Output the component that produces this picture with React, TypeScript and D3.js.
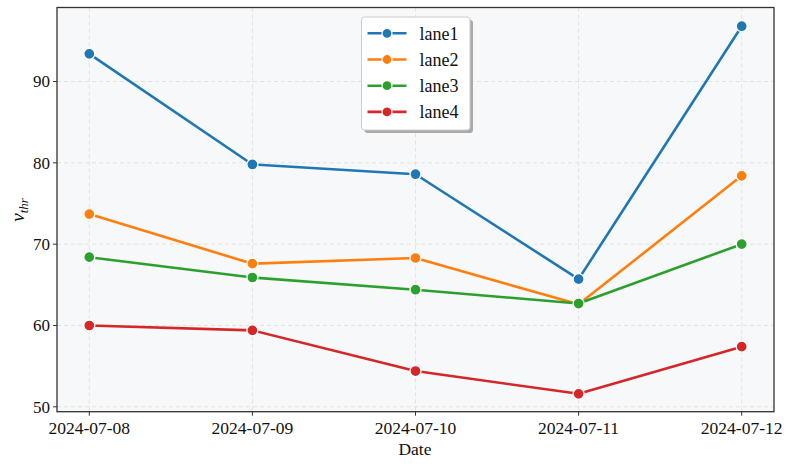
import React from "react";
import * as d3 from "d3";

const dates = ["2024-07-08", "2024-07-09", "2024-07-10", "2024-07-11", "2024-07-12"];
const seriesNames = ["lane1", "lane2", "lane3", "lane4"];
const colors = ["#1f77b4", "#ff7f0e", "#2ca02c", "#d62728"];
const lane1 = [93.4, 79.8, 78.6, 65.7, 96.8];
const lane2 = [73.7, 67.6, 68.3, 62.6, 78.4];
const lane3 = [68.4, 65.9, 64.4, 62.7, 70.0];
const lane4 = [60.0, 59.4, 54.4, 51.6, 57.4];
const yTicks = [50, 60, 70, 80, 90];

const W = 792, H = 469;
const L = 57, R = 774, T = 7.5, B = 411.7;
const FONT = "'Liberation Serif', serif";

export default function App() {
  const series = [lane1, lane2, lane3, lane4];
  const x = d3.scalePoint<string>().domain(dates).range([89.3, 741.7]);
  const y = d3.scaleLinear().domain([49.4, 99.1]).range([B, T]);
  const line = d3.line<number>().x((_, i) => x(dates[i])!).y((d) => y(d));
  const lgX = 361.5, lgY = 17, lgW = 108.5, lgH = 113;
  return (
    <svg width={W} height={H} style={{ position: "absolute", left: 0, top: 0 }}>
      <rect x={0} y={0} width={W} height={H} fill="#fff" />
      <rect x={L} y={T} width={R - L} height={B - T} fill="#f7f8fa" />
      {dates.map((d) => (
        <line key={d} x1={x(d)} x2={x(d)} y1={T} y2={B} stroke="#dcdcdc" strokeWidth={0.8} strokeDasharray="4,3" />
      ))}
      {yTicks.map((t) => (
        <line key={t} x1={L} x2={R} y1={y(t)} y2={y(t)} stroke="#dcdcdc" strokeWidth={0.8} strokeDasharray="4,3" />
      ))}
      {series.map((s, i) => (
        <g key={i}>
          <path d={line(s)!} fill="none" stroke={colors[i]} strokeWidth={2.6} strokeLinejoin="round" />
          {s.map((v, j) => (
            <circle key={j} cx={x(dates[j])} cy={y(v)} r={5.5} fill={colors[i]} stroke="#fff" strokeWidth={1.3} />
          ))}
        </g>
      ))}
      <rect x={L} y={T} width={R - L} height={B - T} fill="none" stroke="#333" strokeWidth={1.3} />
      {yTicks.map((t) => (
        <g key={t}>
          <line x1={L - 4} x2={L} y1={y(t)} y2={y(t)} stroke="#333" strokeWidth={1} />
          <text x={L - 7} y={y(t)} dy="0.35em" textAnchor="end" fontFamily={FONT} fontSize={17} fill="#111">{t}</text>
        </g>
      ))}
      {dates.map((d) => (
        <g key={d}>
          <line x1={x(d)} x2={x(d)} y1={B} y2={B + 4} stroke="#333" strokeWidth={1} />
          <text x={x(d)} y={B + 22} textAnchor="middle" fontFamily={FONT} fontSize={17.5} fill="#111">{d}</text>
        </g>
      ))}
      <text x={415} y={455} textAnchor="middle" fontFamily={FONT} fontSize={17.5} fill="#111">Date</text>
      <text transform="translate(24,210) rotate(-90)" textAnchor="middle" fontFamily={FONT} fontSize={19} fontStyle="italic" fill="#111">
        v<tspan fontSize={13} dy={4}>thr</tspan>
      </text>
      <rect x={lgX + 3} y={lgY + 3} width={lgW} height={lgH} rx={3} fill="#aaa" />
      <rect x={lgX} y={lgY} width={lgW} height={lgH} rx={3} fill="#fff" stroke="#ccc" strokeWidth={1} />
      {seriesNames.map((n, i) => {
        const cy = lgY + 16.3 + i * 26.2;
        return (
          <g key={n}>
            <line x1={lgX + 6} x2={lgX + 45} y1={cy} y2={cy} stroke={colors[i]} strokeWidth={2.6} />
            <circle cx={lgX + 25.5} cy={cy} r={5} fill={colors[i]} stroke="#fff" strokeWidth={1.2} />
            <text x={lgX + 58} y={cy} dy="0.35em" fontFamily={FONT} fontSize={18} fill="#111">{n}</text>
          </g>
        );
      })}
    </svg>
  );
}
